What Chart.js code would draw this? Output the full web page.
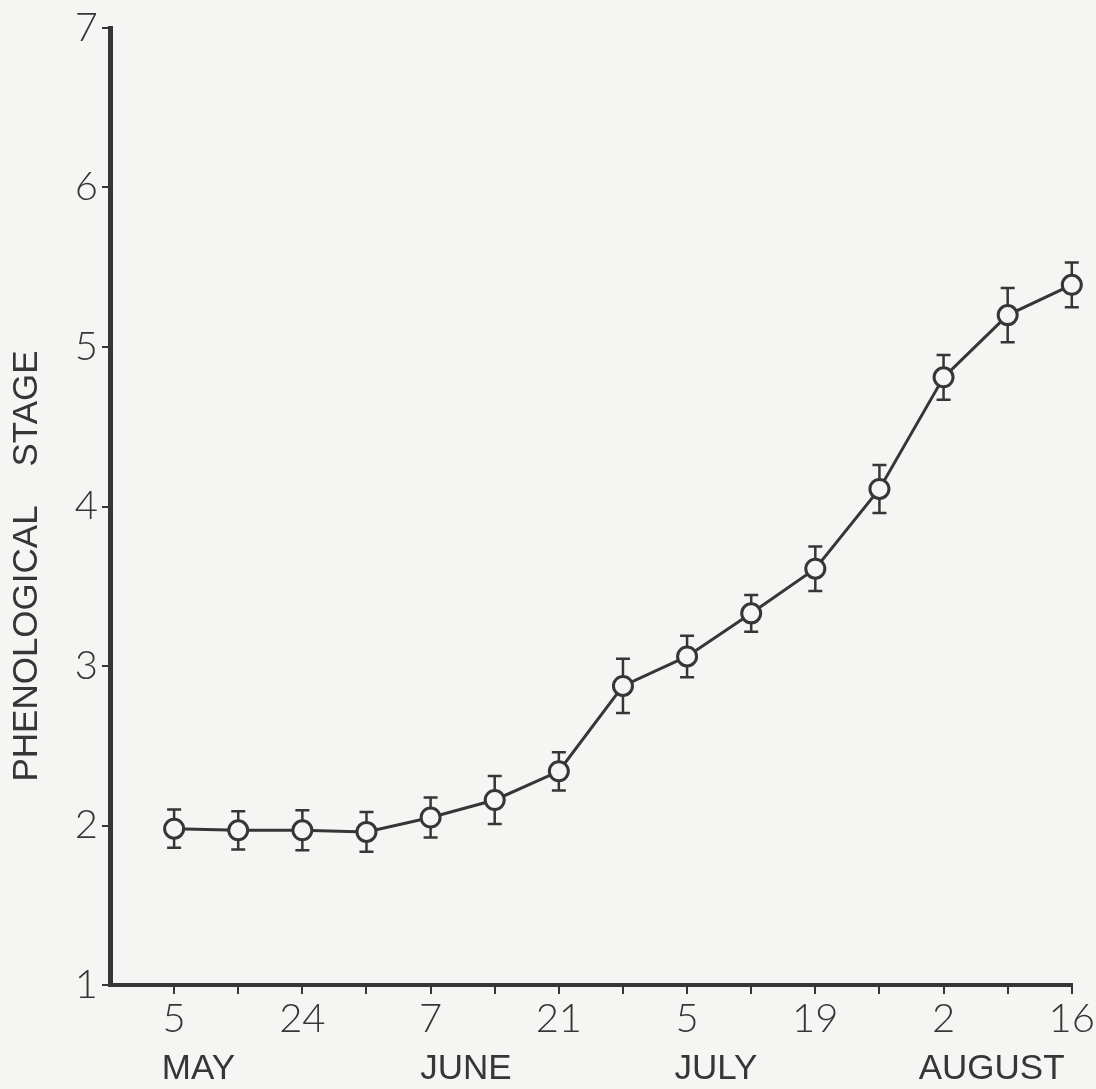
<!DOCTYPE html>
<html>
<head>
<meta charset="utf-8">
<script src="https://cdn.jsdelivr.net/npm/chart.js@4/dist/chart.umd.min.js"></script>
<style>
  html, body { margin: 0; padding: 0; background: #f5f5f3; }
  #wrap { width: 1096px; height: 1089px; }
</style>
</head>
<body>
<div id="wrap"><canvas id="stageChart" width="1096" height="1089"></canvas></div>
<script>
// sampling dates (weekly), only every other one is labelled on the axis
const tickLabels = ["5", "", "24", "", "7", "", "21", "", "5", "", "19", "", "2", "", "16"];
const months = ["MAY", "JUNE", "JULY", "AUGUST"];
// mean phenological stage and its error
const stageMean = [1.98, 1.97, 1.97, 1.96, 2.05, 2.16, 2.34, 2.875, 3.06, 3.33, 3.61, 4.11, 4.81, 5.20, 5.39];
const stageErr = [0.12, 0.12, 0.125, 0.125, 0.125, 0.15, 0.12, 0.17, 0.13, 0.115, 0.14, 0.15, 0.14, 0.17, 0.14];
const yTicks = [1, 2, 3, 4, 5, 6, 7];

// where the month names sit along the date axis (in sample index units)
const monthAt = [0.38, 4.55, 8.45, 12.75];

const ink = "#363636";
const paper = "#f5f5f3";

const errorBars = {
    id: "errorBars",
    beforeDatasetsDraw(chart) {
        const c = chart.ctx;
        const xs = chart.scales.x, ys = chart.scales.y;
        c.save();
        c.strokeStyle = ink;
        c.lineWidth = 2.5;
        stageMean.forEach((m, i) => {
            const x = xs.getPixelForValue(i);
            const top = ys.getPixelForValue(m + stageErr[i]);
            const bot = ys.getPixelForValue(m - stageErr[i]);
            c.beginPath();
            c.moveTo(x, top); c.lineTo(x, bot);
            c.moveTo(x - 7, top); c.lineTo(x + 7, top);
            c.moveTo(x - 7, bot); c.lineTo(x + 7, bot);
            c.stroke();
        });
        c.restore();
    }
};

const paperAndTitle = {
    id: "paperAndTitle",
    beforeDraw(chart) {
        const c = chart.ctx;
        c.save();
        c.fillStyle = paper;
        c.fillRect(0, 0, chart.width, chart.height);
        c.restore();
    },
    afterDraw(chart) {
        const c = chart.ctx;
        c.save();
        c.translate(27, 566);
        c.rotate(-Math.PI / 2);
        c.fillStyle = ink;
        c.font = "35px 'Liberation Sans', Arial, sans-serif";
        c.textAlign = "center";
        c.textBaseline = "middle";
        c.fillText("PHENOLOGICAL    STAGE", 0, 0);
        c.restore();
    }
};

const ctx = document.getElementById("stageChart").getContext("2d");
const chart = new Chart(ctx, {
    type: "line",
    data: {
        datasets: [{
            label: "Phenological stage",
            data: stageMean.map((v, i) => ({ x: i, y: v })),
            borderColor: ink,
            borderWidth: 3,
            pointRadius: 9.5,
            pointBorderWidth: 3,
            pointBackgroundColor: paper,
            pointBorderColor: ink,
            tension: 0,
            clip: false
        }]
    },
    options: {
        responsive: false,
        animation: false,
        events: [],
        layout: { padding: { top: 25, right: 24, left: 0, bottom: 0 } },
        plugins: {
            legend: { display: false },
            tooltip: { enabled: false }
        },
        scales: {
            x: {
                type: "linear",
                position: "bottom",
                min: -1,
                max: 14,
                weight: 0,
                afterBuildTicks: (s) => { s.ticks = tickLabels.map((t, i) => ({ value: i })); },
                afterFit: (s) => { s.height = 55; },
                grid: { drawOnChartArea: false, drawTicks: true, tickLength: 9, color: ink, lineWidth: 2 },
                border: { display: true, color: ink, width: 4 },
                ticks: {
                    autoSkip: false,
                    maxRotation: 0,
                    padding: 1,
                    color: ink,
                    font: { family: "Lato", weight: 300, size: 40 },
                    callback: (v) => tickLabels[v]
                }
            },
            months: {
                type: "linear",
                position: "bottom",
                min: -1,
                max: 14,
                weight: 1,
                afterBuildTicks: (s) => { s.ticks = monthAt.map(v => ({ value: v })); },
                afterFit: (s) => { s.height = 49; },
                grid: { display: false },
                border: { display: false },
                ticks: {
                    autoSkip: false,
                    maxRotation: 0,
                    padding: 0,
                    color: ink,
                    font: { family: "'Liberation Sans', Arial, sans-serif", size: 35 },
                    callback: (v, i) => months[i]
                }
            },
            y: {
                min: 1,
                max: 7,
                afterBuildTicks: (s) => { s.ticks = yTicks.map(v => ({ value: v })); },
                afterFit: (s) => { s.width = 110; },
                grid: { drawOnChartArea: false, drawTicks: true, tickLength: 8, color: ink, lineWidth: 2 },
                border: { display: true, color: ink, width: 5 },
                ticks: {
                    padding: 4,
                    color: ink,
                    font: { family: "Lato", weight: 300, size: 40 }
                }
            }
        }
    },
    plugins: [paperAndTitle, errorBars]
});
</script>
</body>
</html>
